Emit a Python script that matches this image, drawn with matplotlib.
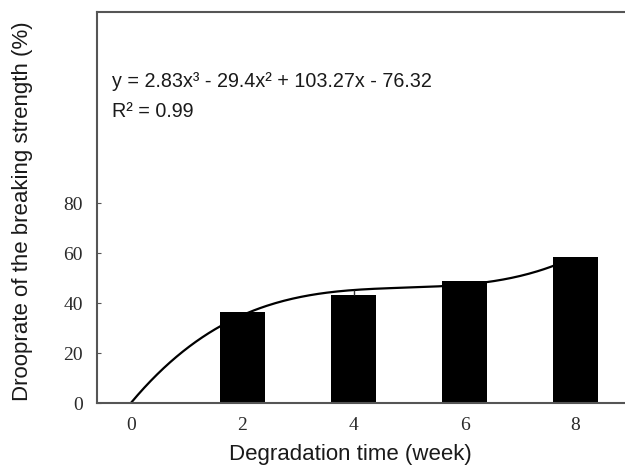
import numpy as np
import matplotlib
matplotlib.use("Agg")
import matplotlib.pyplot as plt

weeks = [2, 4, 6, 8]
droop = [36.6, 43.2, 49.0, 58.6]
err_up = [0.0, 2.1, 0.0, 0.0]
coef = [2.83, -29.4, 103.27, -76.32]   # trendline, x = week/2 + 1
x_ticks = [0, 2, 4, 6, 8]
y_ticks = [0, 20, 40, 60, 80]

fig = plt.figure(figsize=(6.25, 4.71), dpi=100)
ax = fig.add_axes([97/625, 1-403.3/471, 1-97/625, (403.3-12)/471])

spine_c = "#555555"
wk = np.linspace(0, 7.7, 200)
xf = wk/2 + 1
fit = np.polyval(coef, xf)
ax.plot(wk, fit, color="black", lw=1.6, zorder=1)
ax.bar(weeks, droop, width=0.82, color="black", zorder=2)
ax.errorbar(weeks, droop, yerr=[[0]*4, err_up], fmt="none", ecolor="#333333",
            elinewidth=1, capsize=0, zorder=3)

ax.set_xlim(-0.62, 8.89)
ax.set_ylim(0, 156.5)
ax.set_xticks(x_ticks)
ax.set_yticks(y_ticks)
ax.set_xticklabels([str(v) for v in x_ticks], fontfamily="Liberation Serif", fontsize=14, color="#2a2a2a")
ax.set_yticklabels([str(v) for v in y_ticks], fontfamily="Liberation Serif", fontsize=14, color="#2a2a2a")
ax.tick_params(axis="x", length=0, pad=10)
ax.tick_params(axis="y", direction="in", length=3, color=spine_c, pad=10)
ax.spines["right"].set_visible(False)
for s in ["left", "top", "bottom"]:
    ax.spines[s].set_color(spine_c)
    ax.spines[s].set_linewidth(1.5)

fig.text(112/625, 1-86.7/471, "y = 2.83x\u00b3 - 29.4x\u00b2 + 103.27x - 76.32",
         fontfamily="Liberation Sans", fontsize=14.2, color="#1a1a1a", va="baseline", ha="left")
fig.text(112/625, 1-116.7/471, "R\u00b2 = 0.99",
         fontfamily="Liberation Sans", fontsize=14.2, color="#1a1a1a", va="baseline", ha="left")

fig.text(350/625, 1-460/471, "Degradation time (week)", fontfamily="Liberation Sans",
         fontsize=16, color="#1a1a1a", ha="center", va="baseline")
fig.text(23/625, 1-211/471, "Drooprate of the breaking strength (%)", fontfamily="Liberation Sans",
         fontsize=16, color="#1a1a1a", ha="center", va="center", rotation=90)

fig.savefig("out.png", dpi=100, facecolor="white")
